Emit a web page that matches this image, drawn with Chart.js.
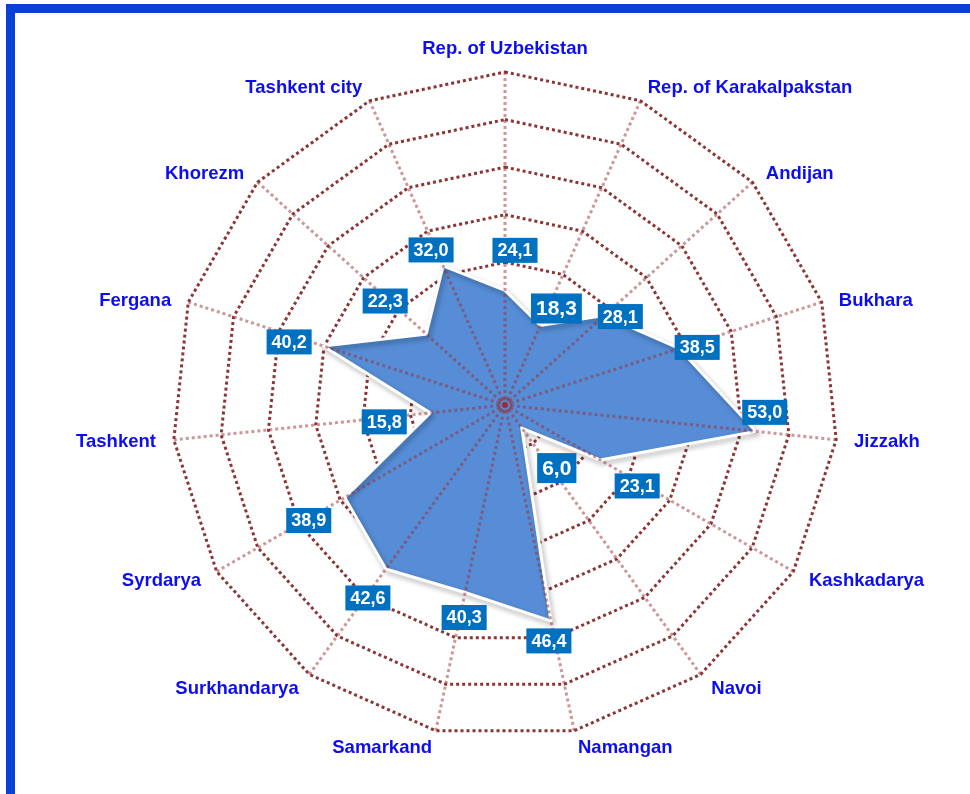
<!DOCTYPE html>
<html>
<head>
<meta charset="utf-8">
<script src="https://cdn.jsdelivr.net/npm/chart.js@4"></script>
<style>
  body { margin: 0; background: #fff; }
  .frame { position: absolute; left: 6px; top: 4px; width: 964px; height: 790px; box-sizing: border-box;
           border-top: 9px solid #0B40D8; border-left: 9px solid #0B40D8; }
  #radar { position: absolute; left: 0; top: 0; }
</style>
</head>
<body>
<div class="frame"></div>
<canvas id="radar" width="970" height="794"></canvas>
<script>
const regions = ['Rep. of Uzbekistan', 'Rep. of Karakalpakstan', 'Andijan', 'Bukhara', 'Jizzakh',
  'Kashkadarya', 'Navoi', 'Namangan', 'Samarkand', 'Surkhandarya', 'Syrdarya', 'Tashkent',
  'Fergana', 'Khorezm', 'Tashkent city'];
const shares = [24.1, 18.3, 28.1, 38.5, 53.0, 23.1, 6.0, 46.4, 40.3, 42.6, 38.9, 15.8, 40.2, 22.3, 32.0];

// value boxes were placed by hand in the original, so nudge each one from its point
const labelShift = [[10, -40], [16, -17], [16, 1], [18, -1], [9, -19], [37, 26], [35, 40], [-2, 20],
  [-1, 25], [-18, 29], [-36, 23], [-46, 9], [-34, -4], [-41, -33], [-12, -16]];
const bigLabel = [false, true, false, false, false, false, true, false, false, false, false, false, false, false, false];

const FONT = '"Liberation Sans", Arial, sans-serif';
const spokeColor = 'rgba(155, 45, 50, 0.5)';

const spokes = {
  id: 'spokes',
  afterDatasetsDraw(chart) {
    const r = chart.scales.r, ctx = chart.ctx;
    ctx.save();
    ctx.strokeStyle = spokeColor;
    ctx.lineWidth = 3;
    ctx.setLineDash([3, 3]);
    regions.forEach((_, i) => {
      const p = r.getPointPosition(i, r.drawingArea);
      ctx.beginPath();
      ctx.moveTo(r.xCenter, r.yCenter);
      ctx.lineTo(p.x, p.y);
      ctx.stroke();
    });
    ctx.setLineDash([]);
    ctx.lineWidth = 2.5;
    ctx.beginPath();
    ctx.arc(r.xCenter, r.yCenter, 6, 0, 2 * Math.PI);
    ctx.stroke();
    ctx.fillStyle = spokeColor;
    ctx.beginPath();
    ctx.arc(r.xCenter, r.yCenter, 2.5, 0, 2 * Math.PI);
    ctx.fill();
    ctx.restore();
  }
};

const valueBoxes = {
  id: 'valueBoxes',
  afterDatasetsDraw(chart) {
    const ctx = chart.ctx;
    const pts = chart.getDatasetMeta(0).data;
    ctx.save();
    ctx.textAlign = 'center';
    ctx.textBaseline = 'middle';
    pts.forEach((pt, i) => {
      const size = bigLabel[i] ? 21 : 18;
      const txt = shares[i].toFixed(1).replace('.', ',');
      ctx.font = 'bold ' + size + 'px ' + FONT;
      const w = ctx.measureText(txt).width + 10;
      const h = bigLabel[i] ? 30 : 25;
      const x = pt.x + labelShift[i][0], y = pt.y + labelShift[i][1];
      ctx.fillStyle = '#0070C0';
      ctx.fillRect(x - w / 2, y - h / 2, w, h);
      ctx.fillStyle = '#fff';
      ctx.fillText(txt, x, y + 1);
    });
    ctx.restore();
  }
};

const regionNames = {
  id: 'regionNames',
  afterDraw(chart) {
    const r = chart.scales.r, ctx = chart.ctx;
    ctx.save();
    ctx.font = 'bold 18.5px ' + FONT;
    ctx.fillStyle = '#0D0DF2';
    regions.forEach((name, i) => {
      const deg = i * 360 / regions.length;
      if (deg === 0) {
        const p = r.getPointPosition(i, r.drawingArea + 14);
        ctx.textAlign = 'center';
        ctx.textBaseline = 'bottom';
        ctx.fillText(name, p.x, p.y);
        return;
      }
      const p = r.getPointPosition(i, r.drawingArea + 18);
      ctx.textAlign = deg < 180 ? 'left' : 'right';
      ctx.textBaseline = 'middle';
      const lift = Math.cos(deg * Math.PI / 180) > 0.2 ? 4 : 0;
      ctx.fillText(name, p.x, p.y + lift);
    });
    ctx.restore();
  }
};

const shadow = {
  id: 'shadow',
  beforeDatasetDraw(chart) {
    const ctx = chart.ctx;
    ctx.save();
    ctx.shadowColor = 'rgba(0, 0, 0, 0.35)';
    ctx.shadowBlur = 5;
    ctx.shadowOffsetX = 2;
    ctx.shadowOffsetY = 3;
  },
  afterDatasetDraw(chart) {
    chart.ctx.restore();
  }
};

new Chart(document.getElementById('radar'), {
  type: 'radar',
  data: {
    labels: regions,
    datasets: [{
      data: shares,
      backgroundColor: '#568DD6',
      borderColor: '#ffffff',
      borderWidth: 3,
      pointRadius: 0,
      fill: true
    }]
  },
  options: {
    responsive: false,
    animation: false,
    layout: { padding: { left: 172, right: 132, top: 72, bottom: 56 } },
    plugins: { legend: { display: false }, tooltip: { enabled: false } },
    scales: {
      r: {
        min: 0,
        max: 70,
        ticks: { display: false, stepSize: 10 },
        pointLabels: { display: false },
        angleLines: { display: false },
        grid: { color: '#8B3535', lineWidth: 3 },
        border: { dash: [3, 3] }
      }
    }
  },
  plugins: [shadow, spokes, valueBoxes, regionNames]
});
</script>
</body>
</html>
